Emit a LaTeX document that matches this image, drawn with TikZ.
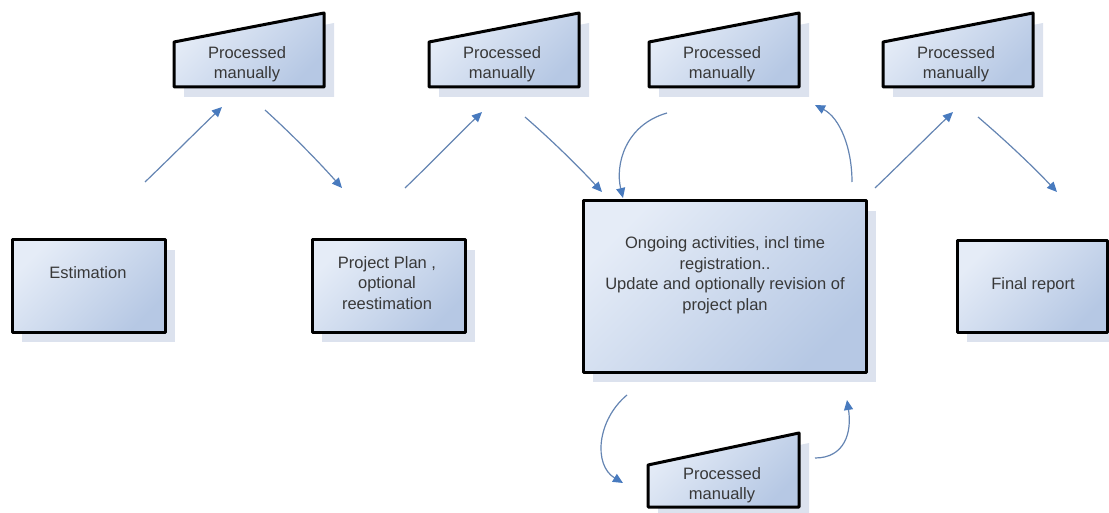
\documentclass[tikz,border=0pt]{standalone}
\usepackage{fontspec}
\setmainfont{Liberation Sans}
\usetikzlibrary{arrows.meta,shadows}
\definecolor{boxLight}{RGB}{229,236,247}
\definecolor{boxDark}{RGB}{182,200,228}
\definecolor{shadeFill}{RGB}{220,226,238}
\definecolor{flowLine}{RGB}{100,132,178}
\definecolor{flowBlue}{RGB}{72,122,190}
\begin{document}
\begin{tikzpicture}[x=1pt,y=-1pt,
  boxshadow/.style={drop shadow={shadow xshift=10pt,shadow yshift=-10pt,fill=shadeFill,opacity=1}},
  box/.style={draw=black,line width=3pt,line join=round,top color=boxLight,
    bottom color=boxDark,shading angle=45,inner sep=0pt,boxshadow},
  lbl/.style={font=\fontsize{16.5}{20.5}\selectfont,text=black!78,align=center,inner sep=0pt},
  flow/.style={draw=flowLine,line width=1.2pt,
    -{Triangle[length=10pt,width=9pt,color=flowBlue]}}]
\useasboundingbox (0,0) rectangle (1109,513);

% process boxes
\node[box,minimum width=153pt,minimum height=92pt] (est) at (88.5,286) {};
\node[lbl] (estT) at (88,273) {Estimation};
\node[box,minimum width=153pt,minimum height=92pt] (plan) at (388.5,286) {};
\node[lbl] (planT) at (387,283) {Project Plan ,\\optional\\reestimation};
\node[box,minimum width=283pt,minimum height=171pt] (work) at (724.5,286.5) {};
\node[lbl] (workT) at (725,275) {Ongoing activities, incl time\\registration..\\Update and optionally revision of\\project plan};
\node[box,minimum width=150pt,minimum height=91pt] (final) at (1032,286.5) {};
\node[lbl] (finalT) at (1033,285) {Final report};

% manual input shapes along the top
\foreach \n/\x in {m1/174,m2/429,m3/649,m4/883}{
  \path[box] (\x,87) -- (\x+150,87) -- (\x+150,13) -- (\x,42) -- cycle;
  \node[lbl] (\n) at (\x+73,64) {Processed\\manually};
}
% manual input shape below the main activity
\path[box] (648,507) -- (799,507) -- (799,433) -- (648,465) -- cycle;
\node[lbl] (m5) at (722,485) {Processed\\manually};

% connector end points
\coordinate (a1s) at (145,182); \coordinate (a1e) at (222,107);
\coordinate (a2s) at (265,110); \coordinate (a2e) at (342,188);
\coordinate (a3s) at (405,188); \coordinate (a3e) at (482,112);
\coordinate (a4s) at (525,117); \coordinate (a4e) at (602,192);
\coordinate (a5s) at (667,113); \coordinate (a5e) at (623,198);
\coordinate (a6s) at (852,182); \coordinate (a6e) at (815,105);
\coordinate (a7s) at (875,188); \coordinate (a7e) at (953,112);
\coordinate (a8s) at (978,117); \coordinate (a8e) at (1057,192);
\coordinate (a9s) at (627,395); \coordinate (a9e) at (623,483);
\coordinate (a10s) at (815,458); \coordinate (a10e) at (847,400);

% connectors
\draw[flow] (a1s) .. controls (171,157) and (196,132) .. (a1e);
\draw[flow] (a2s) .. controls (292,134.5) and (317.5,160.5) .. (a2e);
\draw[flow] (a3s) .. controls (431,163) and (456,137) .. (a3e);
\draw[flow] (a4s) .. controls (552,140.5) and (577.5,165.5) .. (a4e);
\draw[flow] (a5s) .. controls (625,125) and (615,165) .. (a5e);
\draw[flow] (a6s) .. controls (852,148) and (840,118) .. (a6e);
\draw[flow] (a7s) .. controls (901,163) and (927,137) .. (a7e);
\draw[flow] (a8s) .. controls (1005.5,140.5) and (1032,165.5) .. (a8e);
\draw[flow] (a9s) .. controls (597,420) and (593,465) .. (a9e);
\draw[flow] (a10s) .. controls (845,458) and (852,432) .. (a10e);
\end{tikzpicture}
\end{document}
